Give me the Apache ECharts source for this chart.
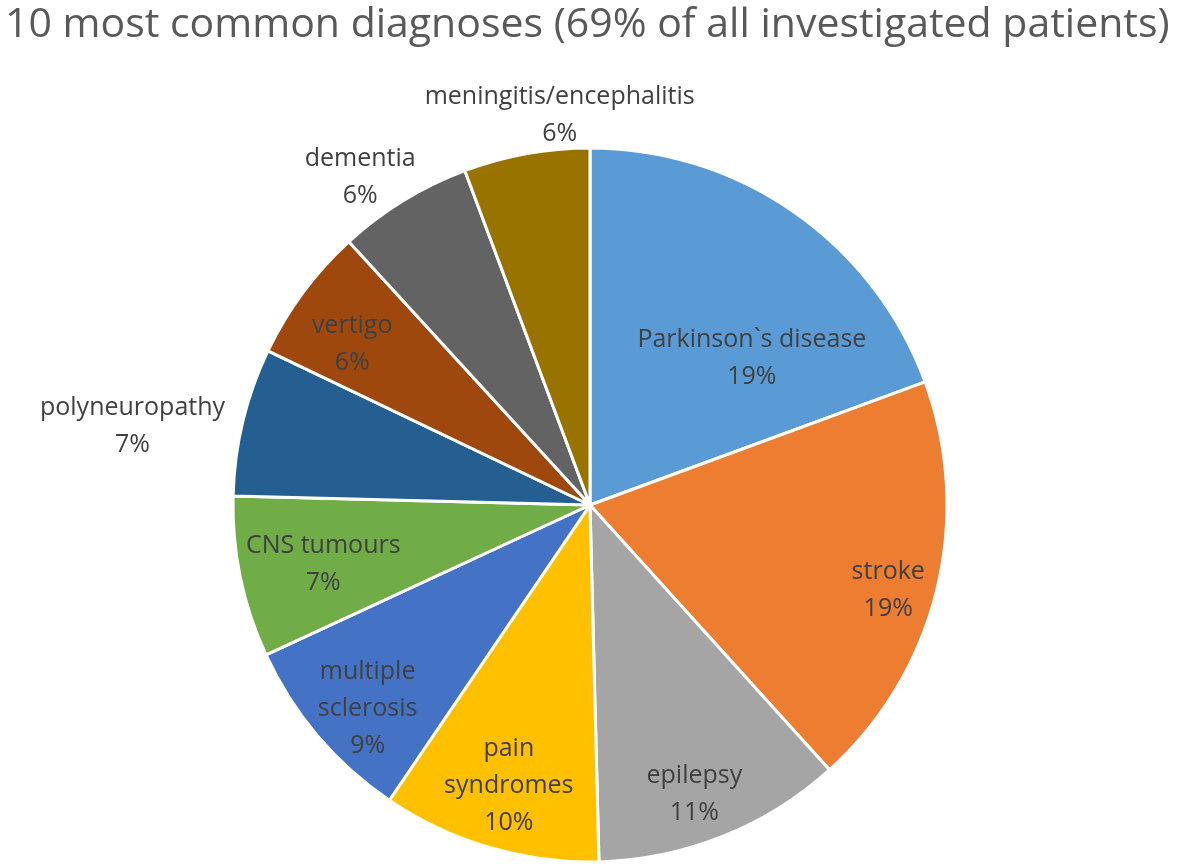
<!DOCTYPE html>
<html><head><meta charset="utf-8">
<script src="https://cdn.jsdelivr.net/npm/echarts@6/dist/echarts.min.js"></script>
<style>html,body{margin:0;padding:0;background:#fff}#c{width:1181px;height:868px}</style>
</head><body><div id="c"></div>
<script>
const categories = ['Parkinson`s disease','stroke','epilepsy','pain\nsyndromes','multiple\nsclerosis','CNS tumours','polyneuropathy','vertigo','dementia','meningitis/encephalitis'];
const values = [19.4, 18.9, 11.3, 9.9, 8.6, 7.3, 6.7, 6.1, 6.1, 5.7];
const colors = ['#5B9BD5','#ED7D31','#A5A5A5','#FFC000','#4472C4','#70AD47','#255E91','#9E480E','#636363','#997300'];
const titleText = '10 most common diagnoses (69% of all investigated patients)';
// label offsets relative to default "inside" label position (styling only)
const labelOffsets = [[58,2],[122,42],[37,121],[-30,107],[-84,86],[-89,23],[-281,-36],[-92,-53],[-135,-173],[2,-211]];

const chart = echarts.init(document.getElementById('c'));
chart.setOption({
  animation: false,
  title: {text: titleText, left: 0, top: 0,
    textStyle: {fontFamily: 'Open Sans', fontSize: 41, fontWeight: 'normal', color: '#595959'}},
  series: [{
    type: 'pie', center: [590, 505], radius: [0, 357], startAngle: 90, clockwise: true,
    avoidLabelOverlap: false,
    itemStyle: {borderColor: '#fff', borderWidth: 3},
    label: {position: 'inside', fontFamily: 'Open Sans', fontSize: 25, color: '#404040', lineHeight: 37,
      formatter: p => p.name + '\n' + Math.round(p.percent) + '%'},
    labelLine: {show: false},
    data: categories.map((n, i) => ({name: n, value: values[i], itemStyle: {color: colors[i]},
      label: {offset: labelOffsets[i]}}))
  }]
});
</script></body></html>
